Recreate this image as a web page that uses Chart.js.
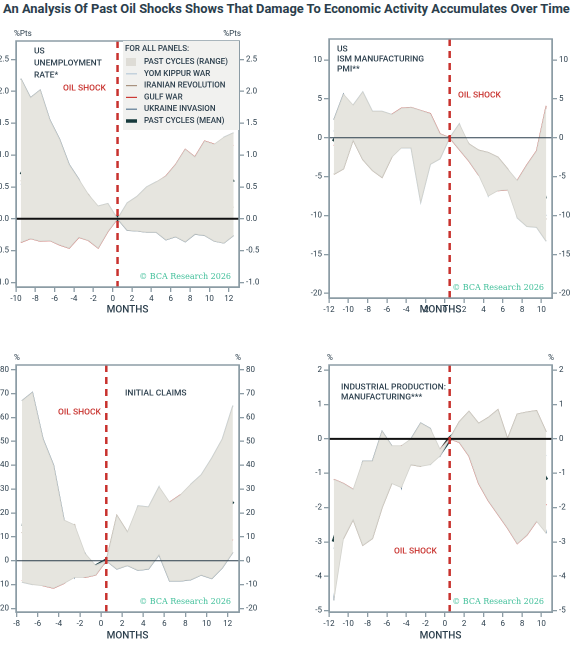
<!DOCTYPE html>
<html><head><meta charset="utf-8">
<script src="https://cdn.jsdelivr.net/npm/chart.js@4.4.1/dist/chart.umd.min.js"></script>
<style>
body{margin:0;background:#fff;width:577px;height:646px;position:relative;overflow:hidden;font-family:Roboto,sans-serif}
#title{position:absolute;left:3px;top:1px;font:bold 12.9px Roboto,sans-serif;color:#2b3e4c;white-space:nowrap}
canvas{position:absolute}
</style></head><body>
<div id="title">An Analysis Of Past Oil Shocks Shows That Damage To Economic Activity Accumulates Over Time</div>
<canvas id="c1"></canvas><canvas id="c2"></canvas><canvas id="c3"></canvas><canvas id="c4"></canvas>
<script>
// months relative to shock (shock at 0.5)
const monthsA = [-9.5,-8.5,-7.5,-6.5,-5.5,-4.5,-3.5,-2.5,-1.5,-0.5,0.5,1.5,2.5,3.5,4.5,5.5,6.5,7.5,8.5,9.5,10.5,11.5,12.5];
const monthsB = [-11.5,-10.5,-9.5,-8.5,-7.5,-6.5,-5.5,-4.5,-3.5,-2.5,-1.5,-0.5,0.5,1.5,2.5,3.5,4.5,5.5,6.5,7.5,8.5,9.5,10.5];
const monthsC = [-7.5,-6.5,-5.5,-4.5,-3.5,-2.5,-1.5,-0.5,0.5,1.5,2.5,3.5,4.5,5.5,6.5,7.5,8.5,9.5,10.5,11.5,12.5];

// US unemployment rate
const unUkraine = [2.2,1.9,2.02,1.55,1.25,0.85,0.62,0.3,0.1,0.12,0,-0.18,-0.19,-0.21,-0.21,-0.33,-0.28,-0.36,-0.24,-0.26,-0.35,-0.38,-0.26];
const unGulf    = [-0.37,-0.31,-0.35,-0.34,-0.41,-0.46,-0.29,-0.34,-0.46,-0.2,0,0.13,0.22,0.45,0.57,0.67,0.85,1.09,0.97,1.22,1.17,1.1,1.16];
const unIran    = [0.59,0.67,0.5,0.5,0.34,0.25,0.12,0.38,0.16,0.18,0,0.1,0.18,0.1,0.13,0.07,0.06,-0.16,-0.07,-0.06,0.24,0.1,0.19];
const unYom     = [0.55,0.35,0.45,0.36,0.4,0.27,0.28,0.2,0.2,0.24,0,0.25,0.35,0.5,0.58,0.47,0.47,0.55,0.75,0.9,0.85,1.28,1.35];
const unMean    = [0.74,0.65,0.65,0.52,0.38,0.23,0.18,0.13,0,0.1,0,0.1,0.16,0.22,0.27,0.22,0.28,0.28,0.35,0.45,0.48,0.53,0.62];

// ISM manufacturing PMI
const pmiUkraine = [2.3,5.6,2.7,3.3,3.0,2.1,1.7,2.5,2.5,2.6,0.3,0.1,0,-0.5,-2.5,-2.2,-4.8,-5.0,-5.5,-7.0,-8.0,-9.0,-10.0];
const pmiGulf    = [-1.0,0,0.6,0.7,1.2,1.1,3.0,3.8,3.9,3.5,3.1,0.5,0,-1.5,-3.0,-4.8,-5.0,-6.8,-6.7,-5.5,-3.5,-1.7,4.1];
const pmiIran    = [-4.7,-4.0,-0.3,-2.8,-4.2,-5.1,-2.5,0.2,0.4,2.0,0.1,0.3,0,1.2,-0.8,-1.6,-1.9,-2.5,-4.0,-6.0,-7.5,-9.0,-10.5];
const pmiYom     = [0.8,3.8,4.2,5.9,3.4,3.4,3.0,-1.3,-1.3,-8.3,-3.4,-2.7,0,1.8,-1.5,-2.8,-7.5,-5.0,-5.5,-10.3,-11.4,-11.5,-13.3];
const pmiMean    = [-0.5,1.3,1.8,1.8,1.0,0.4,1.0,1.3,1.3,0,0,-0.6,0,0.1,-2.4,-3.5,-4.8,-4.8,-5.5,-7.0,-7.6,-7.8,-7.5];

// Initial claims
const icUkraine = [67,70.5,51,40,17,-7,3,-5.5,0,-3.5,-2,-4,-3.5,2.5,-8.5,-8.5,-8,-6,-7.5,-3,3.5];
const icGulf    = [-8.5,-6,-10.5,-11.5,-9.5,-6,-7,-6,0,3.5,9,15,6,23,24.5,27.5,15,10,6.5,12,8.5];
const icIran    = [12,5,2,-2,10,15,-3,-4,0,19,12,10,12.5,13.5,11.5,6,17,30,23,23,25];
const icYom     = [-9,-10,0.5,-5.5,-3.5,4,-1,-2,0,8,10,23,22.5,31,17,13,32,36,43,51,65];
const icMean    = [15.5,15,10,5,3,1,-2,-2.5,0,6,8,11,9.5,17.5,11,9.5,14,17.5,16,21,25];

// Industrial production: manufacturing
const ipUkraine = [-4.7,-1.8,-1.65,-0.65,-0.65,0.22,-0.2,-1.42,0,0.46,0.3,-0.5,0,0.48,0.4,-0.3,-0.6,-0.6,-0.6,-0.6,-0.3,-1.2,-2.75];
const ipGulf    = [-1.18,-1.3,-1.47,-1.3,-1.3,-1.35,-0.4,-0.2,-0.5,-0.3,-0.1,-0.3,0,-0.1,-0.5,-1.3,-1.8,-2.2,-2.6,-3.05,-2.8,-2.4,-1.9];
const ipIran    = [-2.9,-2.9,-2.35,-3.1,-2.9,-2.0,-1.3,-1.1,-0.75,-0.8,-0.55,-0.4,0,0.5,0.8,0.45,0.62,0.85,0.0,0.72,0.78,0.82,0.2];
const ipYom     = [-3.2,-2.5,-2.0,-1.7,-1.2,-1.1,-1.15,-0.8,-0.55,-0.7,-0.75,-0.4,0,0.4,0.1,-0.15,-0.15,-0.3,-0.45,-0.1,-0.1,-0.1,-0.5];
const ipMean    = [-3.0,-2.2,-1.9,-1.65,-1.4,-1.05,-0.8,-0.9,-0.55,-0.35,-0.3,-0.4,0,0.25,0.22,-0.25,-0.5,-0.55,-0.9,-0.75,-0.62,-0.75,-1.2];

const xTicksA = [-10,-8,-6,-4,-2,0,2,4,6,8,10,12];
const xTicksB = [-12,-10,-8,-6,-4,-2,0,2,4,6,8,10];
const xTicksC = [-8,-6,-4,-2,0,2,4,6,8,10,12];
const legendLabels = ['PAST CYCLES (RANGE)','YOM KIPPUR WAR','IRANIAN REVOLUTION','GULF WAR','UKRAINE INVASION','PAST CYCLES (MEAN)'];

const C = {band:'#e6e5df', bandEdge:'#d2d2cc', yom:'#b9cbd8', iran:'#a8927f', gulf:'#cc3a35',
  ukr:'#5b7a93', mean:'#173a3c', axis:'#8c9ca5', text:'#2b3e4c', red:'#c8312d', bca:'#3fbf99'};
const SHOCK = 0.5;

function pts(xs, ys) { return xs.map((x, i) => ({x, y: ys[i]})); }

function makePanel(o) {
  const cv = document.getElementById(o.id);
  cv.width = o.w; cv.height = o.h;
  cv.style.left = o.left + 'px'; cv.style.top = o.top + 'px';
  cv.style.width = o.w + 'px'; cv.style.height = o.h + 'px';
  const p = o.plot; // plot area in canvas px: [l, t, r, b]
  const series = [o.yom, o.iran, o.gulf, o.ukr];
  const lo = o.x.map((_, i) => Math.min(...series.map(s => s[i])));
  const hi = o.x.map((_, i) => Math.max(...series.map(s => s[i])));
  const line = (d, c, w) => ({data: pts(o.x, d), borderColor: c, borderWidth: w, pointRadius: 0, fill: false});
  const yAxis = (pos) => ({
    type: 'linear', position: pos, min: o.yMin, max: o.yMax,
    afterFit: s => { s.width = pos === 'left' ? p[0] : o.w - p[2]; },
    afterBuildTicks: s => { s.ticks = o.yTicks.map(v => ({value: v})); },
    grid: {drawOnChartArea: false, color: C.axis, tickLength: 5, lineWidth: 1.3},
    border: {color: C.axis, width: 1.5},
    ticks: {color: C.text, font: {size: 8, family: 'Roboto'}, padding: 2,
      callback: v => o.dec ? v.toFixed(1) : String(v)}
  });
  const ann = {
    id: 'ann',
    afterDatasetsDraw(ch) {
      const g = ch.ctx, a = ch.chartArea, xs = ch.scales.x, ys = ch.scales.y;
      g.save();
      g.strokeStyle = o.zeroColor; g.lineWidth = o.zeroW;
      g.beginPath(); g.moveTo(a.left, ys.getPixelForValue(0)); g.lineTo(a.right, ys.getPixelForValue(0)); g.stroke();
      const sx = xs.getPixelForValue(SHOCK);
      g.strokeStyle = C.red; g.lineWidth = 2.5; g.setLineDash([7, 5]);
      g.beginPath(); g.moveTo(sx, a.top); g.lineTo(sx, a.bottom); g.stroke();
      g.setLineDash([]);
      g.strokeStyle = C.axis; g.lineWidth = 1.5;
      g.strokeRect(a.left, a.top, a.right - a.left, a.bottom - a.top);
      o.texts.forEach(t => {
        g.fillStyle = t.c || C.text; g.font = (t.f || '500 8.5px Roboto'); g.textAlign = t.al || 'left';
        g.textBaseline = 'top'; g.fillText(t.t, t.x, t.y);
      });
      g.font = '8px "DejaVu Serif", serif'; g.fillStyle = C.bca; g.textAlign = 'right'; g.textBaseline = 'bottom';
      g.fillText('\u00a9 BCA Research 2026', a.right - 8, a.bottom - 6);
      g.font = '8px Roboto'; g.fillStyle = C.text; g.textBaseline = 'bottom';
      g.textAlign = 'left'; g.fillText(o.unit, a.left - 2, a.top - 3);
      g.textAlign = 'right'; g.fillText(o.unit, a.right + 2, a.top - 3);
      if (o.legend) drawLegend(g, a);
      g.restore();
    }
  };
  new Chart(cv, {
    type: 'line',
    data: {datasets: [
      {data: pts(o.x, lo), borderColor: C.bandEdge, borderWidth: 0.8, pointRadius: 0, fill: false},
      {data: pts(o.x, hi), borderColor: C.bandEdge, borderWidth: 0.8, pointRadius: 0, fill: '-1', backgroundColor: C.band},
      line(o.yom, C.yom, 1.2), line(o.iran, C.iran, 1.2), line(o.gulf, C.gulf, 1.2), line(o.ukr, C.ukr, 1.2),
      line(o.mean, C.mean, 4.5)
    ]},
    options: {
      responsive: false, animation: false, devicePixelRatio: 2,
      layout: {padding: {top: p[1], left: 0, right: 0, bottom: 0}},
      plugins: {legend: {display: false}, tooltip: {enabled: false}},
      scales: {
        x: {type: 'linear', min: o.xMin, max: o.xMax,
          afterFit: s => { s.height = o.h - p[3]; },
          afterBuildTicks: s => { s.ticks = o.xTicks.map(v => ({value: v})); },
          grid: {drawOnChartArea: false, color: C.axis, tickLength: 5, lineWidth: 1.3},
          border: {color: C.axis, width: 1.5},
          ticks: {color: C.text, font: {size: 8, family: 'Roboto'}, padding: 2, maxRotation: 0},
          title: {display: true, text: 'MONTHS', color: C.text, font: {size: 10, family: 'Roboto', weight: '500'}, padding: {top: 2}}
        },
        y: yAxis('left'), y2: yAxis('right')
      }
    },
    plugins: [ann]
  });
}

function drawLegend(g, a) {
  const x0 = 123, y0 = a.top, w = a.right - x0, h = 89;
  g.fillStyle = '#f1f1ef'; g.fillRect(x0, y0, w, h);
  g.font = '500 8px Roboto'; g.fillStyle = C.text; g.textAlign = 'left'; g.textBaseline = 'middle';
  g.fillText('FOR ALL PANELS:', x0 + 2, y0 + 8);
  const cols = [null, C.yom, C.iran, C.gulf, C.ukr, C.mean];
  legendLabels.forEach((lab, i) => {
    const y = y0 + 21 + i * 11.8;
    if (i === 0) { g.fillStyle = '#dedcd6'; g.fillRect(x0 + 3, y - 4, 10, 8); }
    else { g.strokeStyle = cols[i]; g.lineWidth = i === 5 ? 3.5 : 1.2; g.beginPath(); g.moveTo(x0 + 3, y); g.lineTo(x0 + 14, y); g.stroke(); }
    g.fillStyle = C.text; g.fillText(lab, x0 + 21, y);
  });
}

makePanel({id: 'c1', left: 0, top: 20, w: 288, h: 300, plot: [16, 21, 239, 267],
  x: monthsA, xMin: -10, xMax: 13.06, xTicks: xTicksA, yMin: -1.07, yMax: 2.79, dec: true,
  yTicks: [-1, -0.5, 0, 0.5, 1, 1.5, 2, 2.5], unit: '%Pts', zeroColor: '#111', zeroW: 2, legend: true,
  yom: unYom, iran: unIran, gulf: unGulf, ukr: unUkraine, mean: unMean,
  texts: [{t: 'US', x: 34, y: 27}, {t: 'UNEMPLOYMENT', x: 34, y: 39}, {t: 'RATE*', x: 34, y: 51},
          {t: 'OIL SHOCK', x: 63, y: 64, c: C.red}]});

makePanel({id: 'c2', left: 290, top: 20, w: 287, h: 300, plot: [39, 19, 262, 278],
  x: monthsB, xMin: -12, xMax: 11.1, xTicks: xTicksB, yMin: -20.6, yMax: 12.7,
  yTicks: [-20, -15, -10, -5, 0, 5, 10], unit: '', zeroColor: '#2b3e4c', zeroW: 1,
  yom: pmiYom, iran: pmiIran, gulf: pmiGulf, ukr: pmiUkraine, mean: pmiMean,
  texts: [{t: 'US', x: 47, y: 25}, {t: 'ISM MANUFACTURING', x: 47, y: 35}, {t: 'PMI**', x: 47, y: 45},
          {t: 'OIL SHOCK', x: 168, y: 71, c: C.red}]});

makePanel({id: 'c3', left: 0, top: 340, w: 288, h: 306, plot: [16, 25, 239, 272],
  x: monthsC, xMin: -8.06, xMax: 13.08, xTicks: xTicksC, yMin: -21.5, yMax: 82,
  yTicks: [-20, -10, 0, 10, 20, 30, 40, 50, 60, 70, 80], unit: '%', zeroColor: '#2b3e4c', zeroW: 1,
  yom: icYom, iran: icIran, gulf: icGulf, ukr: icUkraine, mean: icMean,
  texts: [{t: 'INITIAL CLAIMS', x: 125, y: 49}, {t: 'OIL SHOCK', x: 58, y: 68, c: C.red}]});

makePanel({id: 'c4', left: 290, top: 340, w: 287, h: 306, plot: [39, 25, 262, 272],
  x: monthsB, xMin: -12, xMax: 11.1, xTicks: xTicksB, yMin: -5.04, yMax: 2.15,
  yTicks: [-5, -4, -3, -2, -1, 0, 1, 2], unit: '%', zeroColor: '#111', zeroW: 2,
  yom: ipYom, iran: ipIran, gulf: ipGulf, ukr: ipUkraine, mean: ipMean,
  texts: [{t: 'INDUSTRIAL PRODUCTION:', x: 51, y: 43}, {t: 'MANUFACTURING***', x: 51, y: 53},
          {t: 'OIL SHOCK', x: 104, y: 207, c: C.red}]});
</script>
</body></html>
